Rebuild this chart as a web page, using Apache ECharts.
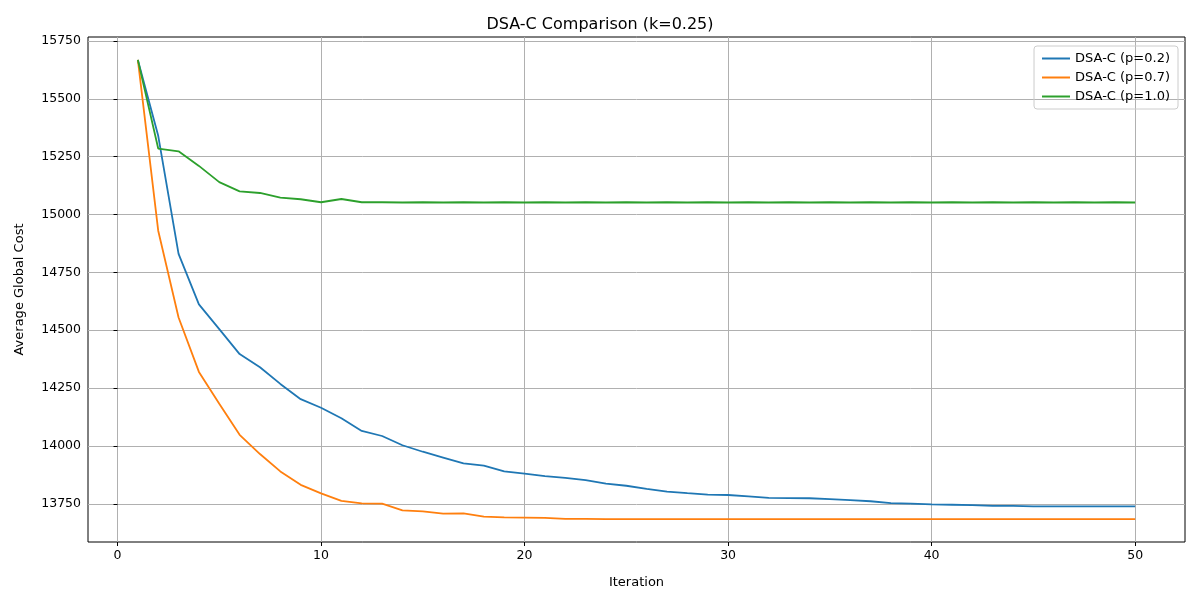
<!DOCTYPE html>
<html>
<head>
<meta charset="utf-8">
<script src="https://cdn.jsdelivr.net/npm/echarts@6.0.0/dist/echarts.min.js"></script>
<style>html,body{margin:0;padding:0;background:#fff}#chart{width:1200px;height:600px}</style>
</head>
<body>
<div id="chart"></div>
<script>
  // --- Data ---
  const iterations = Array.from({ length: 50 }, (_, i) => i + 1);
  const costP02 = [15668, 15340, 14830, 14612, 14505, 14397, 14340, 14268, 14202, 14165,
    14120, 14065, 14043, 14003, 13975, 13950, 13925, 13915, 13890, 13880,
    13870, 13862, 13852, 13837, 13828, 13815, 13803, 13796, 13790, 13788,
    13782, 13776, 13775, 13774, 13770, 13766, 13761, 13753, 13751, 13748,
    13746, 13744, 13741, 13741, 13739, 13739, 13739, 13739, 13739, 13739];
  const costP07 = [15668, 14930, 14555, 14320, 14182, 14048, 13965, 13890, 13832, 13795,
    13763, 13752, 13751, 13722, 13717, 13708, 13709, 13695, 13691, 13690,
    13689, 13685, 13685, 13684, 13684, 13684, 13684, 13684, 13684, 13684,
    13684, 13684, 13684, 13684, 13684, 13684, 13684, 13684, 13684, 13684,
    13684, 13684, 13684, 13684, 13684, 13684, 13684, 13684, 13684, 13684];
  const costP10 = [15668, 15285, 15273, 15210, 15140, 15100, 15093, 15073, 15066, 15053,
    15067, 15053, 15053, 15052, 15053, 15052, 15053, 15052, 15053, 15052,
    15053, 15052, 15053, 15052, 15053, 15052, 15053, 15052, 15053, 15052,
    15053, 15052, 15053, 15052, 15053, 15052, 15053, 15052, 15053, 15052,
    15053, 15052, 15053, 15052, 15053, 15052, 15053, 15052, 15053, 15052];
  const xTicks = [0, 10, 20, 30, 40, 50];
  const yTicks = [13750, 14000, 14250, 14500, 14750, 15000, 15250, 15500, 15750];

  const font = 'DejaVu Sans';
  const pair = arr => arr.map((v, i) => [iterations[i], v]);
  const line = (name, color, arr) => ({
    name, type: 'line', data: pair(arr), showSymbol: false,
    lineStyle: { color, width: 1.8 }, itemStyle: { color }
  });

  const chart = echarts.init(document.getElementById('chart'), null, { renderer: 'canvas' });
  chart.setOption({
    animation: false,
    textStyle: { fontFamily: font },
    title: {
      text: 'DSA-C Comparison (k=0.25)', left: 'center', top: 12,
      textStyle: { fontFamily: font, fontSize: 16, fontWeight: 'normal', color: '#000' }
    },
    legend: {
      orient: 'vertical', right: 22, top: 46, itemGap: 6,
      itemWidth: 28, itemHeight: 2, icon: 'rect',
      padding: [6, 8], borderColor: '#ccc', borderWidth: 1, borderRadius: 3,
      textStyle: { fontFamily: font, fontSize: 13, color: '#000' }
    },
    grid: { left: 88, right: 15, top: 37, bottom: 58, show: true, borderColor: '#000', borderWidth: 1 },
    xAxis: {
      type: 'value', min: -1.45, max: 52.45,
      name: 'Iteration', nameLocation: 'middle', nameGap: 34,
      nameTextStyle: { fontFamily: font, fontSize: 13, color: '#000' },
      axisLine: { show: false },
      axisTick: { show: true, inside: false, customValues: xTicks, length: 4, lineStyle: { color: '#000' } },
      axisLabel: { customValues: xTicks, margin: 7, fontFamily: font, fontSize: 12.5, color: '#000' },
      splitLine: { show: true, customValues: xTicks, lineStyle: { color: '#b0b0b0' } }
    },
    yAxis: {
      type: 'value', min: 13585, max: 15767,
      name: 'Average Global Cost', nameLocation: 'middle', nameGap: 62,
      nameTextStyle: { fontFamily: font, fontSize: 13, color: '#000' },
      axisLine: { show: false },
      axisTick: { show: true, inside: false, customValues: yTicks, length: 4, lineStyle: { color: '#000' } },
      axisLabel: { customValues: yTicks, margin: 7, formatter: v => String(v), fontFamily: font, fontSize: 12.5, color: '#000' },
      splitLine: { show: true, customValues: yTicks, lineStyle: { color: '#b0b0b0' } }
    },
    series: [
      line('DSA-C (p=0.2)', '#1f77b4', costP02),
      line('DSA-C (p=0.7)', '#ff7f0e', costP07),
      line('DSA-C (p=1.0)', '#2ca02c', costP10)
    ]
  });
</script>
</body>
</html>
